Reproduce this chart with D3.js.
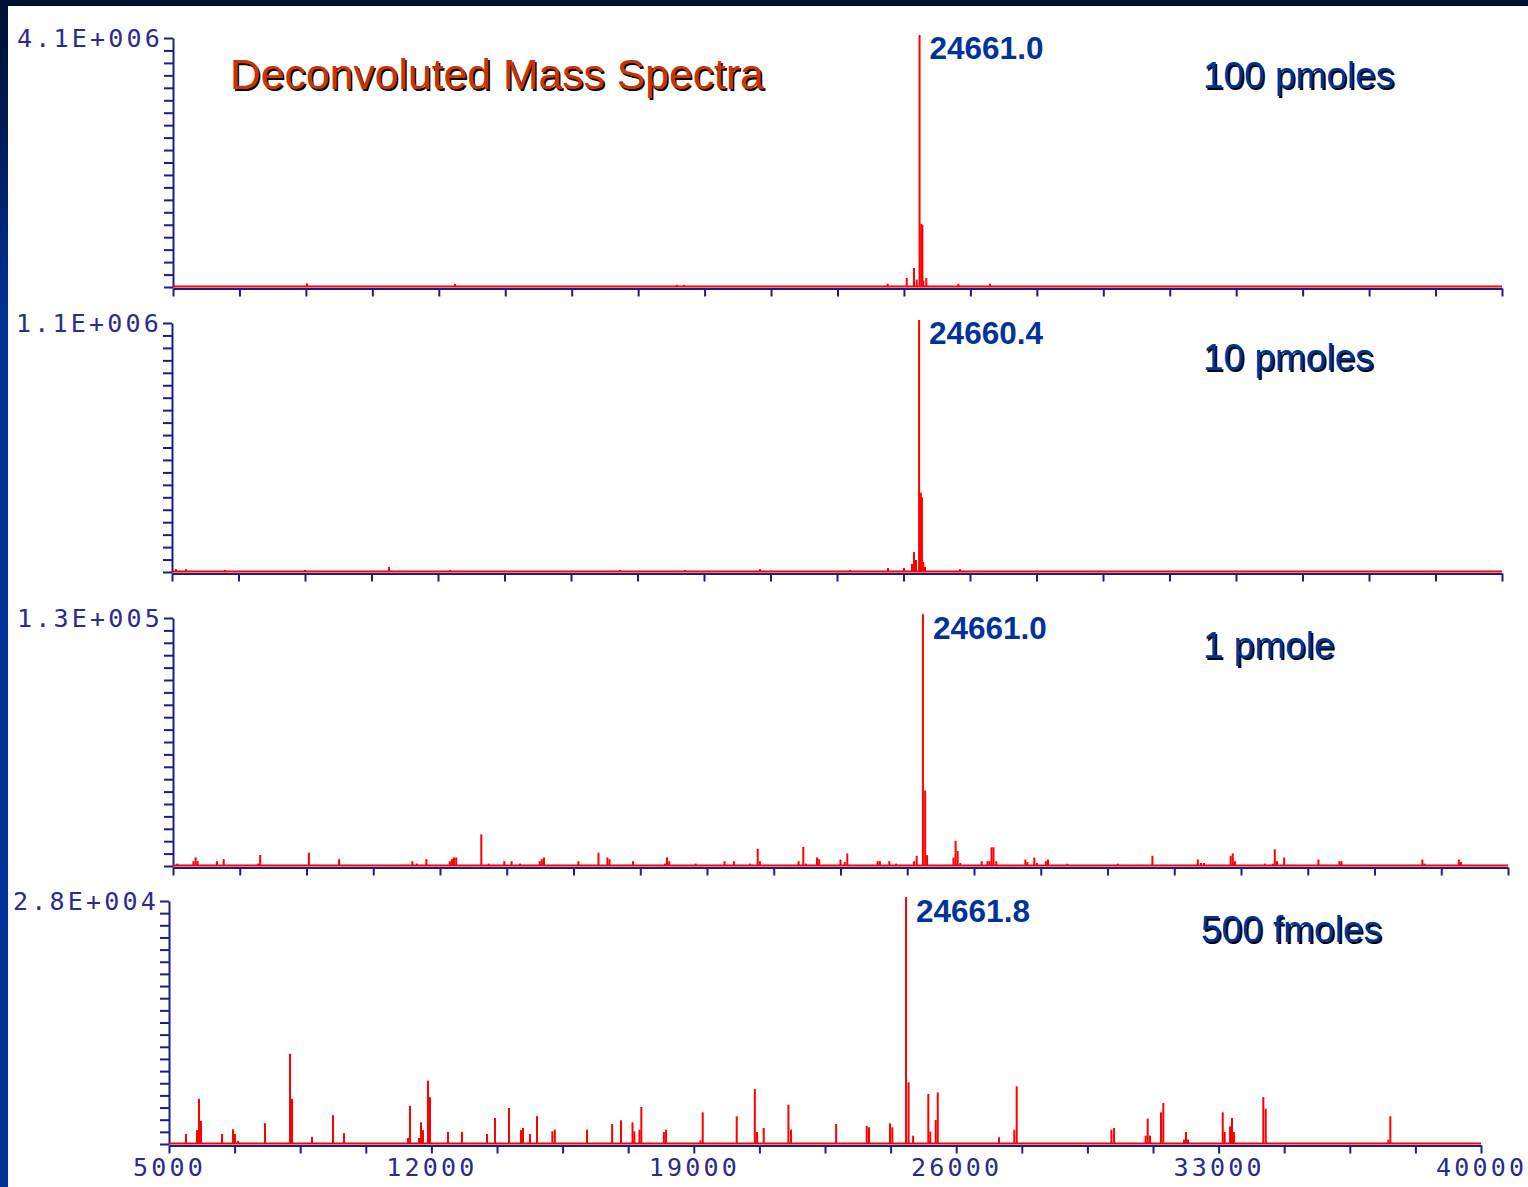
<!DOCTYPE html>
<html>
<head>
<meta charset="utf-8">
<script src="https://cdn.jsdelivr.net/npm/d3@7"></script>
<style>
body { margin: 0; width: 1528px; height: 1187px; overflow: hidden; background: #003399; }
svg { display: block; }
.axis .domain, .axis line { stroke: #1c1c8a; stroke-width: 2; }
.axis text { fill: #2a2a92; font-family: "DejaVu Sans Mono", monospace; font-size: 25px; letter-spacing: 3.2px; }
</style>
</head>
<body>
<script>
//deconvoluted spectra, one [mass (Da), intensity] pair per stick
var spec100 = [
    [8529, 60000], [12427, 50000], [18273, 35000], [18458, 35000], [23822, 55000],
    [24322, 148000], [24515, 313000], [24586, 120000], [24661.0, 4150000],
    [24705, 1040000], [24735, 1020000], [24760, 104000], [24838, 148000],
    [25682, 55000], [26517, 55000]
];
var spec10 = [
    [5105, 13000], [5368, 13000], [6395, 9000], [8500, 9000], [10711, 22000],
    [12316, 9000], [16790, 9000], [18500, 9000], [20474, 13000], [22842, 9000],
    [23842, 18000], [24263, 18000], [24474, 35000], [24526, 88000], [24579, 53000],
    [24660.4, 1113000], [24705, 350000], [24735, 330000], [24770, 44000],
    [24816, 22000], [25737, 13000]
];
var spec1 = [
    [5113, 1260], [5535, 2520], [5593, 4500], [5648, 2520], [6151, 2520], [6329, 3600],
    [7234, 1260], [7286, 5760], [8563, 7020], [9355, 3600], [11276, 2520], [11397, 1260],
    [11643, 3600], [12257, 2520], [12315, 3600], [12367, 4500], [12425, 4500],
    [13083, 16600], [13274, 1260], [13686, 2520], [13877, 2520], [14097, 1260],
    [14614, 2520], [14669, 3600], [14726, 4500], [15628, 2520], [16155, 7020],
    [16389, 4500], [16444, 3600], [17060, 2520], [17896, 1260], [17951, 4500],
    [18009, 2520], [18701, 1260], [19459, 2520], [19705, 2520], [20130, 1260],
    [20329, 9010], [20387, 2520], [21402, 2520], [21525, 9960], [21596, 1260],
    [21884, 4500], [21941, 3600], [22500, 3400], [22612, 2100], [22678, 6600],
    [23475, 2520], [23533, 2520], [23779, 2520], [23958, 1260], [24430, 2520],
    [24497, 5350], [24661.0, 132000], [24720, 39600], [24770, 5700], [25462, 4450],
    [25517, 13200], [25572, 7860], [25640, 1570], [26201, 2520], [26353, 2520],
    [26406, 2520], [26459, 9800], [26511, 9800], [26584, 2520], [27347, 3400],
    [27402, 2100], [27581, 4450], [27649, 1570], [27885, 2520], [27940, 3400],
    [28446, 1260], [29770, 1260], [30677, 5350], [31867, 3400], [31951, 1570],
    [32030, 1570], [32730, 5350], [32785, 6600], [32842, 2520], [33626, 1260],
    [33831, 1260], [33886, 8750], [33944, 2520], [34132, 4450], [35031, 3400],
    [35582, 2520], [35634, 2520], [37755, 3400], [37812, 1260], [38709, 3400],
    [38767, 2100]
];
var spec500f = [
    [5454, 1150], [5747, 1600], [5800, 5200], [5854, 2650], [6414, 1150], [6707, 1700],
    [6761, 1150], [6841, 350], [7561, 2400], [8228, 10400], [8281, 5200], [8815, 800],
    [9375, 3300], [9668, 1250], [11376, 700], [11429, 4400], [11669, 700], [11723, 2500],
    [11776, 1600], [11909, 7300], [11963, 5400], [12443, 1400], [12816, 1400],
    [13483, 1150], [13697, 3000], [14070, 4150], [14390, 1600], [14444, 1850],
    [14630, 1150], [14817, 3200], [15226, 1460], [15293, 1650], [16151, 1650],
    [16821, 2300], [17058, 2730], [17365, 2500], [17413, 1460], [17552, 1650],
    [17600, 4260], [18203, 1380], [18261, 1650], [19179, 420], [19238, 3650],
    [20145, 3190], [20628, 6340], [20686, 1380], [20865, 1840], [21524, 4530],
    [21593, 1650], [22797, 2300], [23613, 2100], [23674, 1920], [24234, 2380],
    [24296, 1920], [24661.8, 28450], [24730, 7100], [24850, 960], [25256, 5760],
    [25309, 1420], [25454, 2760], [25508, 5950], [27142, 770], [27550, 1650],
    [27614, 6650], [30141, 1650], [30211, 1840], [31055, 970], [31109, 2920],
    [31170, 970], [31464, 3650], [31525, 4720], [32077, 500], [32131, 1380],
    [32184, 500], [33110, 3650], [33163, 1380], [33305, 2040], [33358, 3000],
    [33411, 1380], [34193, 5400], [34257, 4070], [37528, 500], [37581, 3190]
];

var spectra = [spec100, spec10, spec1, spec500f];
var yMax = [4.1e6, 1.1e6, 1.3e5, 2.8e4];
var yMaxLabels = ["4.1E+006", "1.1E+006", "1.3E+005", "2.8E+004"];
var peakMass = [24661.0, 24660.4, 24661.0, 24661.8];
var peakLabels = ["24661.0", "24660.4", "24661.0", "24661.8"];
var amountLabels = ["100 pmoles", "10 pmoles", "1 pmole", "500 fmoles"];
var massDomain = [5000, 40000];
var massTicks = d3.range(5000, 40001, 1750);
var massTickLabels = [5000, 12000, 19000, 26000, 33000, 40000];
var title = "Deconvoluted Mass Spectra";

//frame of each panel on the slide
var frames = [
    {left: 173, right: 1502, top: 38, bottom: 287, amountX: 1203, amountY: 88},
    {left: 172, right: 1502, top: 323, bottom: 572, amountX: 1203, amountY: 370},
    {left: 173, right: 1508, top: 618, bottom: 866, amountX: 1203, amountY: 658},
    {left: 169, right: 1481, top: 901, bottom: 1144, amountX: 1201, amountY: 942}
];

var width = 1528,
    height = 1187;

var svg = d3.select("body")
    .append("svg")
    .attr("width", width)
    .attr("height", height);

//slide background
var grad = svg.append("defs").append("linearGradient")
    .attr("id", "bg")
    .attr("x1", 0).attr("y1", 0).attr("x2", 0).attr("y2", 1);
grad.append("stop").attr("offset", "0%").attr("stop-color", "#000f30");
grad.append("stop").attr("offset", "12%").attr("stop-color", "#001c5c");
grad.append("stop").attr("offset", "28%").attr("stop-color", "#003399");
grad.append("stop").attr("offset", "100%").attr("stop-color", "#003399");

svg.append("rect")
    .attr("width", width)
    .attr("height", height)
    .attr("fill", "url(#bg)");

svg.append("rect")
    .attr("x", 8)
    .attr("y", 6)
    .attr("width", width - 8)
    .attr("height", height - 6)
    .attr("fill", "#ffffff");

//text with a black drop shadow
function shadowText(x, y, txt, size, color){
    [["#000000", 1.6], [color, 0]].forEach(function(s){
        svg.append("text")
            .attr("x", x + s[1])
            .attr("y", y + s[1])
            .attr("font-family", "Arial, 'Liberation Sans', sans-serif")
            .attr("font-size", size)
            .attr("fill", s[0])
            .text(txt);
    });
}

frames.forEach(function(f, i){
    var x = d3.scaleLinear()
        .domain(massDomain)
        .range([f.left, f.right]);

    var y = d3.scaleLinear()
        .domain([0, yMax[i]])
        .range([f.bottom, f.top]);

    var g = svg.append("g");

    //intensity axis, only the full scale value is written
    var yAxis = d3.axisLeft(y)
        .tickValues(d3.range(21).map(function(k){ return yMax[i] * k / 20; }))
        .tickSize(9)
        .tickSizeOuter(0)
        .tickPadding(1)
        .tickFormat(function(d){ return d === yMax[i] ? yMaxLabels[i] : ""; });

    g.append("g")
        .attr("class", "axis")
        .attr("transform", "translate(" + f.left + ",0)")
        .call(yAxis);

    //mass axis, labels on the last panel only
    var xAxis = d3.axisBottom(x)
        .tickValues(massTicks)
        .tickSize(8)
        .tickSizeOuter(0)
        .tickPadding(4.5)
        .tickFormat(function(d){
            return (i === 3 && massTickLabels.indexOf(d) >= 0) ? d : "";
        });

    g.append("g")
        .attr("class", "axis")
        .attr("transform", "translate(0," + (f.bottom + 1.5) + ")")
        .call(xAxis);

    //zero line of the trace
    g.append("line")
        .attr("x1", x(massDomain[0]))
        .attr("x2", x(massDomain[1]))
        .attr("y1", y(0) - 0.5)
        .attr("y2", y(0) - 0.5)
        .attr("stroke", "#ff0000")
        .attr("stroke-width", 2);

    //sticks
    g.selectAll(".stick")
        .data(spectra[i])
        .enter()
        .append("line")
        .attr("class", "stick")
        .attr("x1", function(d){ return x(d[0]); })
        .attr("x2", function(d){ return x(d[0]); })
        .attr("y1", y(0))
        .attr("y2", function(d){ return y(d[1]); })
        .attr("stroke", "#ff0000")
        .attr("stroke-width", 2);

    //peak mass label
    g.append("text")
        .attr("x", x(peakMass[i]) + 10)
        .attr("y", f.top + 21)
        .attr("font-family", "Arial, 'Liberation Sans', sans-serif")
        .attr("font-weight", "bold")
        .attr("font-size", 31.5)
        .attr("fill", "#003399")
        .text(peakLabels[i]);

    shadowText(f.amountX, f.amountY, amountLabels[i], 37, "#003399");
});

shadowText(230, 89, title, 42.7, "#cc3300");
</script>
</body>
</html>
